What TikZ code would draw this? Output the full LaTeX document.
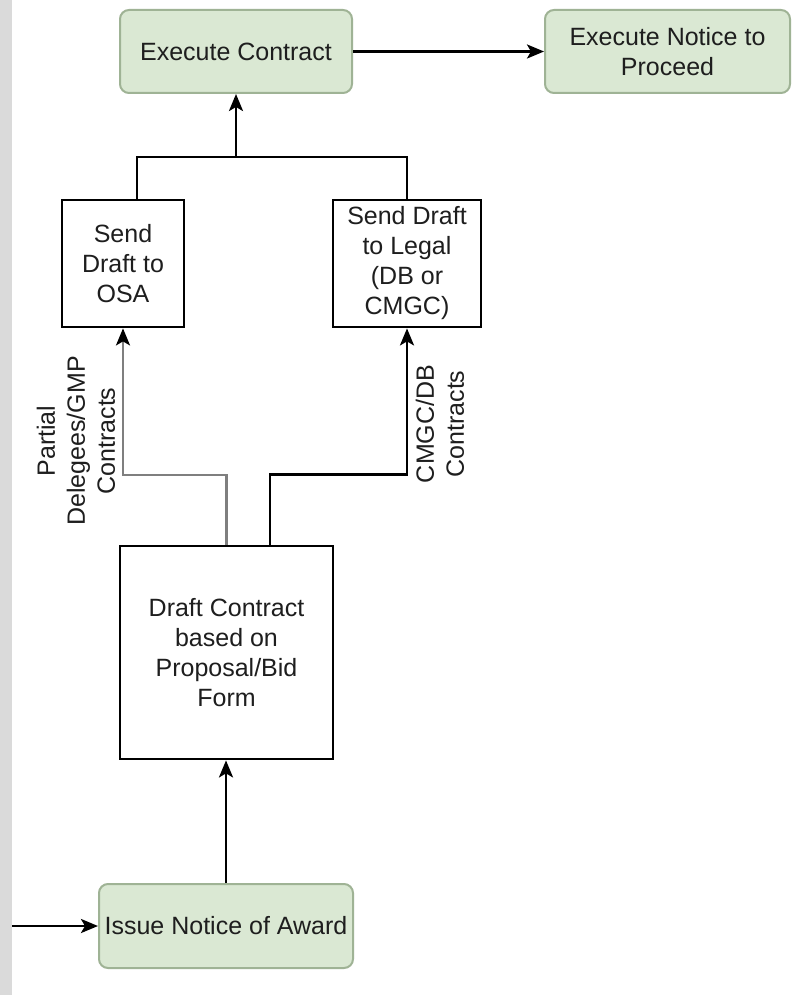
\documentclass[tikz,border=0pt]{standalone}
\usepackage{fontspec}
\setmainfont{Liberation Sans}
\usetikzlibrary{arrows.meta}
\definecolor{greenfill}{HTML}{DAE8D3}
\definecolor{greenedge}{HTML}{9FB395}
\definecolor{stripgray}{HTML}{DADADA}
\definecolor{inkgray}{HTML}{1E1E1E}
\definecolor{linegray}{HTML}{7F7F7F}
\begin{document}
\begin{tikzpicture}[x=1pt,y=-1pt,
  every node/.style={font=\fontsize{25}{30}\selectfont, text=inkgray, align=center, inner sep=0pt},
  greenbox/.style={draw=greenedge, line width=2pt, fill=greenfill, rounded corners=9pt},
  plainbox/.style={draw=black, line width=2.8pt, fill=white},
  link/.style={draw=black, line width=2.6pt},
  arrowlink/.style={link, -{Stealth[length=17pt,width=14pt,inset=4pt]}},
  grayarrow/.style={draw=linegray, line width=2.2pt, -{Stealth[length=17pt,width=14pt,inset=4pt,color=black]}},
  sidelabel/.style={rotate=90, text=inkgray}
]
% canvas and the grey strip on the left edge
\useasboundingbox (0,0) rectangle (795,995);
\fill[white] (0,0) rectangle (795,995);
\fill[stripgray] (0,0) rectangle (12,995);

% process steps
\node[greenbox, minimum width=232pt, minimum height=83pt] (ec) at (236,51.5) {Execute Contract};
\node[greenbox, minimum width=245pt, minimum height=83pt] (np) at (667.5,51.5) {Execute Notice to\\Proceed};
\node[plainbox, minimum width=122pt, minimum height=127pt] (osa) at (123,263.5) {Send\\Draft to\\OSA};
\node[plainbox, minimum width=148pt, minimum height=127pt] (legal) at (407,263.5) {Send Draft\\to Legal\\(DB or\\CMGC)};
\node[plainbox, minimum width=213pt, minimum height=213pt] (dc) at (226.5,652.5) {Draft Contract\\based on\\Proposal/Bid\\Form};
\node[greenbox, minimum width=254pt, minimum height=84pt] (ina) at (226,926) {Issue Notice of Award};

% branch labels
\node[sidelabel] (lblosa) at (76,441) {Partial\\Delegees/GMP\\Contracts};
\node[sidelabel] (lbllegal) at (440,424) {CMGC/DB\\Contracts};

% connectors
\coordinate (jn) at (236,157);
\coordinate (entry) at (12,926);
\draw[arrowlink] (ec.east) -- (np.west);
\draw[link] ([xshift=14pt]osa.north) |- (jn);
\draw[link] (legal.north) |- (jn);
\draw[arrowlink] (jn) -- (ec.south);
\draw[grayarrow] (dc.north) -- ++(0,-70) -| (osa.south);
\draw[arrowlink] ([xshift=43.5pt]dc.north) -- ++(0,-70) -| (legal.south);
\draw[arrowlink] (ina.north) -- (ina.north |- dc.south);
\draw[arrowlink] (entry) -- (ina.west);
\end{tikzpicture}
\end{document}
